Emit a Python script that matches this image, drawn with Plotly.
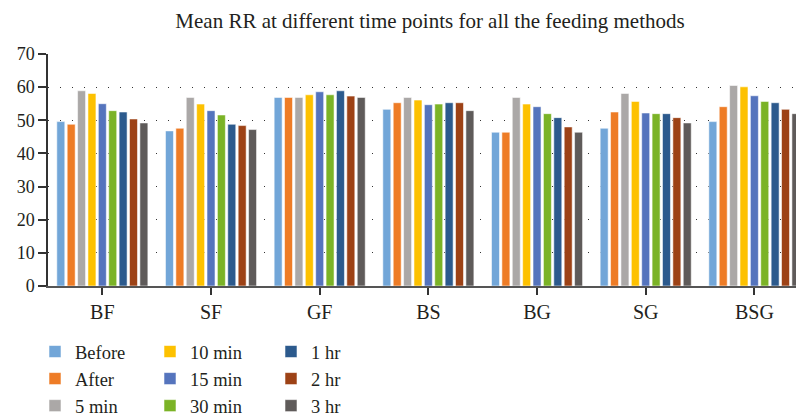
import plotly.graph_objects as go

categories = ["BF", "SF", "GF", "BS", "BG", "SG", "BSG"]
series_names = ["Before", "After", "5 min", "10 min", "15 min", "30 min", "1 hr", "2 hr", "3 hr"]
colors = ["#72A6D8", "#EE7C26", "#ABA8A7", "#FDC100", "#5574BD", "#7BB326", "#2C5A8D", "#9D4216", "#5F5B5A"]

before = [49.6, 46.8, 56.9, 53.3, 46.4, 47.6, 49.6]
after = [48.8, 47.6, 56.9, 55.3, 46.4, 52.5, 54.1]
min5 = [58.9, 56.9, 56.9, 56.9, 56.9, 58.1, 60.5]
min10 = [58.1, 54.9, 57.7, 56.1, 54.9, 55.7, 60.1]
min15 = [55.0, 52.9, 58.6, 54.7, 54.1, 52.2, 57.4]
min30 = [52.9, 51.6, 57.7, 54.9, 52.0, 52.0, 55.7]
hr1 = [52.5, 48.8, 58.9, 55.3, 50.8, 52.0, 55.3]
hr2 = [50.4, 48.4, 57.3, 55.3, 48.0, 50.8, 53.3]
hr3 = [49.2, 47.2, 56.9, 52.9, 46.4, 49.2, 52.0]

series_values = [before, after, min5, min10, min15, min30, hr1, hr2, hr3]
y_ticks = [0, 10, 20, 30, 40, 50, 60, 70]

FONT = "Liberation Serif"
TXT = "#231f20"

legend_ids = ["legend", "legend", "legend", "legend2", "legend2", "legend2", "legend3", "legend3", "legend3"]

fig = go.Figure()
for name, vals, col, lg in zip(series_names, series_values, colors, legend_ids):
    fig.add_trace(go.Bar(
        x=categories, y=vals, name=name,
        marker=dict(color=col, line=dict(color="rgba(255,255,255,0.55)", width=1)),
        legend=lg,
    ))

W, H = 796, 417
ml, mr, mt, mb = 48, 0, 54, 131
pw = W - ml - mr


def px2x(px):
    return (px - ml) / pw


def cx(px):
    return px / W


def cy(py):
    return 1 - py / H


leg_common = dict(
    font=dict(family=FONT, size=18.5, color=TXT),
    bgcolor="rgba(0,0,0,0)",
    xanchor="left", yanchor="top",
    xref="container", yref="container",
    orientation="v",
    tracegroupgap=0,
    traceorder="normal",
)

fig.update_layout(
    width=W, height=H,
    margin=dict(l=ml, r=mr, t=mt, b=mb, autoexpand=False),
    paper_bgcolor="white", plot_bgcolor="white",
    barmode="group", bargap=0.14, bargroupgap=0.23,
    title=dict(text="Mean RR at different time points for all the feeding methods",
               font=dict(family=FONT, size=21, color=TXT),
               x=px2x(430), xanchor="center", xref="paper",
               y=cy(21), yanchor="middle", yref="container"),
    legend=dict(x=cx(35), y=cy(333), **leg_common),
    legend2=dict(x=cx(150), y=cy(333), **leg_common),
    legend3=dict(x=cx(271), y=cy(333), **leg_common),
    xaxis=dict(
        range=[-0.5, 6.383],
        showline=True, linecolor="#555555", linewidth=2,
        ticks="outside", ticklen=7, tickcolor="#333333", tickwidth=1.5,
        showgrid=False, zeroline=False,
        tickfont=dict(family=FONT, size=20, color=TXT),
    ),
    yaxis=dict(
        range=[0, 70], tickvals=y_ticks,
        showline=True, linecolor="#333333", linewidth=1.5,
        ticks="outside", ticklen=8, tickcolor="#333333", tickwidth=1.5,
        showgrid=True, gridcolor="#333333", gridwidth=1, griddash="1px,11px",
        zeroline=False,
        tickfont=dict(family=FONT, size=18, color=TXT),
    ),
)

fig.write_html("out.html")
